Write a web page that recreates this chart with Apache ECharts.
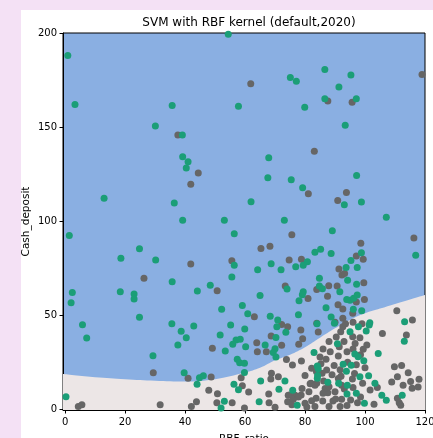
<!DOCTYPE html>
<html>
<head>
<meta charset="utf-8">
<script src="https://cdn.jsdelivr.net/npm/echarts@6/dist/echarts.min.js"></script>
<style>
  html, body { margin: 0; padding: 0; background: #f4e1f5; overflow: hidden; }
  #frame { position: absolute; left: 21px; top: 10px; width: 412px; height: 428px; background: #fff; }
  #chart { width: 412px; height: 428px; }
</style>
</head>
<body>
<div id="frame"><div id="chart"></div></div>
<script>
// decision boundary (RBF_ratio -> Cash_deposit)
const boundaryX = [-0.7, 10, 20, 30, 40, 50, 60, 65, 70, 75, 80, 85, 90, 95, 100, 105, 110, 115, 120];
const boundaryY = [18.7, 17, 16, 15.2, 14.8, 16, 19.5, 22, 26, 29, 33, 38, 43, 47.5, 51, 53.5, 56, 58.3, 60.7];

const xTicks = [0, 20, 40, 60, 80, 100, 120];
const yTicks = [0, 50, 100, 150, 200];

// class 1 (green)
const greenPts = [
  [54.4,199.3],[0.9,188],[3.3,162],[35.7,161.4],[57.8,161],[30.1,150.6],[39.1,145.8],[39.2,134.2],[41,131.5],[40.4,128.3],
  [13,112.2],[36.4,109.6],[62,110.3],[39.2,100.5],[53.1,100.5],
  [86.6,180.6],[75.1,176.3],[77.1,174.3],[95.3,177.7],[91.3,171.3],[86.6,165],[97.1,165],[79.9,160.5],[93.4,151],[67.9,133.7],
  [67.6,123],[75.4,122],[79.2,117.7],[97.2,124.3],[93.1,108.7],[98.8,110.1],[73.1,100.5],[107.1,102],
  [1.4,92.4],[56.4,93.3],[24.8,85.3],[18.6,80.3],[30.2,79.3],[56.4,76.5],[55.6,70.3],[35.7,67.8],[2.4,62.1],[18.4,62.5],
  [23,61.2],[23,58.6],[2,56.6],[44.1,62.8],[48.4,65.9],[52.2,53.1],[59.1,55.2],[60.9,50.8],[24.8,48.9],[5.8,44.9],[7.2,37.9],
  [35.6,45.5],[38.7,41.4],[40.4,38],[42.9,44.2],[37.6,34.1],[55.2,44.8],[59.9,42.6],[51.7,39.5],[57,36.8],[58.4,37.2],
  [55.9,34.5],[60.2,33.2],[53.4,31],[57.4,26.6],[58.2,24.7],[29.3,28.5],[39.7,19.4],[59.8,19.6],[44.8,16.8],[46.1,17.8],
  [44,13.3],[53.1,4.2],[52,0.7],[56.3,13.3],[57.8,10.3],[0.3,6.7],
  [89.1,94.9],[116.9,81.8],[85.2,85.1],[83.3,83.4],[88.7,82.8],[98.8,83.2],[80.8,78.4],[79.4,76.5],[76.9,75.7],[68.7,77.3],
  [72,74.1],[64.2,74.1],[95.3,79.1],[93.7,75.4],[97.4,75.4],[94.2,68.6],[84.8,69.7],[84.8,65.5],[85.8,64],[91.6,62.5],
  [97.2,66.5],[74,63.9],[79.4,62.5],[79.1,60.9],[78,57.7],[65,60.5],[68.4,49.5],[70.9,47.4],[77.8,50.2],[87,54],[88.7,49],
  [96.1,53.1],[98.9,52.4],[95,58],[93.9,58.4],[96.2,59],[89.8,45.7],[84,45.5],[70.6,43.9],[73.6,40.9],[70.3,38.2],[70,32.2],
  [69.4,30.1],[70.3,27.8],[66.7,34.2],[59.8,24.4],[65.2,15],[73.3,15],[71.3,10.6],[64.7,4],[75.9,10.1],[77.4,2.1],[83,30.1],
  [84.1,23],[90.8,34.8],[95,41.2],[97.8,43.9],[101.4,44.8],[100.4,41.6],[96.6,29.4],[97.7,27.9],[99.6,25.8],[92.7,23.9],
  [93.8,20.2],[84.1,16.5],[87.6,14.3],[91.2,13.8],[94.1,12.7],[98.3,17.3],[101.2,17.8],[97.1,8.5],[94,8.1],[99.8,3.2],
  [103.3,13.8],[105.6,7.4],[104.4,29.6],[113.2,46.5],[113.1,36.1],[112.4,7.4],[107.1,4.8],[97.4,60.7],[101.6,46],[84.4,21.5],
  [84.2,18],[95.4,23.4]
];

// class 0 (grey)
const greyPts = [
  [61.9,173],[37.6,145.8],[44.4,125.6],[41.9,119.6],[119,178],[87.6,163.9],[95.7,163.2],[83.1,137.2],[81.1,114.5],[93.8,115.2],
  [90.9,111],[41.9,77.2],[55.6,78.9],[26.3,69.7],[50.7,63],[49.1,32.4],[29.4,19.4],[41,16.5],[48.7,17.2],[58.7,16.8],
  [47.9,10.1],[50.8,8.3],[50.6,3.5],[55.7,3.5],[59.8,0.7],[59.1,12.5],[61.2,9.2],[4.4,1.4],[5.6,2.4],[31.7,2.4],[42.1,1.4],
  [43.8,4],[75.6,92.8],[116.3,91],[65.3,85.5],[68.3,86.7],[98.6,88.3],[97.1,81.4],[99.4,79.7],[74.7,79.3],[78.8,79.7],
  [91.3,74.5],[92.3,71.3],[87.9,65.6],[83.9,63.7],[90.7,65.5],[99.6,67.3],[73.4,65.5],[81,58.9],[63.1,49.2],[92.6,53.3],
  [95.9,51],[97.1,57],[99.8,58.4],[92.6,48.4],[72.2,45.1],[74.2,43.9],[78.6,42.1],[68.7,38.9],[79.2,37.5],[77.9,34.5],
  [72.2,34],[63.9,35.4],[64.1,30.6],[67.1,30.6],[73.8,26.4],[75.8,23.5],[78.8,25.6],[68.8,19.1],[68.6,16.1],[71.1,17.3],
  [67.9,8.1],[68,3.5],[70,1],[75,7.6],[76.7,7.4],[78.7,7.6],[74.2,4],[80,3.2],[82.2,21.8],[85,27.8],[87,26.6],[85.3,24.2],
  [88.4,30.6],[91.4,33.2],[91.1,28.3],[90.4,38.4],[91.9,41.2],[92.6,43.9],[95.9,38.6],[96.7,35],[98.3,38],[100.6,34.2],
  [99.4,31.9],[97.1,23.7],[94.2,25],[91.7,21],[89.7,23.2],[87.2,20.9],[85.7,19.1],[89,18.4],[83.8,20],[83.9,13.8],[90,9.3],
  [95.8,16.1],[99.2,13.8],[93.1,10.8],[92.2,5.3],[95.2,4.9],[91.7,1.4],[85.9,4.4],[83.7,5.8],[83.3,1.4],[89.3,4.4],[87.6,8.8],
  [81.3,9.3],[82,13.8],[103,2.7],[104.1,11.5],[101.7,10.2],[105.8,40.3],[110.6,52.4],[115.8,47.4],[113.8,39.5],[109.8,22.6],
  [112.2,23.2],[110.8,17.3],[114.4,19.4],[115.2,14.7],[118,15.9],[108.9,14.5],[115.7,11.2],[111.4,3.5],[110.8,5.8],[93.2,72.2],
  [96,46.2],[84.4,41.1],[80,18],[81.7,13.6],[74.4,7.4],[76.1,5.3],[75.6,2.4],[80.6,1.2],[77.8,6.5],[83.3,12.7],[86.7,11],
  [91.1,16.3],[92.2,12.7],[117.7,11.8],[112.7,12.7],[111.9,2.1],[83.9,45.7],[90,46.2],
  [86,32],[88,36],[93,36],[94,30.5],[96,32],[98.5,29],[100,22],[96.5,19],[92,17.5],[88,12],[86.2,15],[90.2,5.5],
  [94,2],[97.5,3.5],[98.5,6.5],[96,11.5],[88,1.5],[86,8.5],[82.2,4.5],[79,11],[93.5,45.5],[99,45.5],[91,55.5],[87.5,60]
];

const FONT = 'DejaVu Sans';
const chart = echarts.init(document.getElementById('chart'), null, { renderer: 'canvas' });

const axisCommon = {
  axisLine: { show: true, onZero: false, lineStyle: { color: '#000', width: 1 } },
  axisTick: { show: true, length: 3.5, lineStyle: { color: '#000' } },
  splitLine: { show: false },
  nameMoveOverlap: false,
  nameTextStyle: { fontFamily: FONT, fontSize: 10.5, color: '#000' },
};

chart.setOption({
  animation: false,
  title: {
    text: 'SVM with RBF kernel (default,2020)',
    left: 223, top: 2, textAlign: 'center',
    textStyle: { fontFamily: FONT, fontSize: 12, fontWeight: 'normal', color: '#000' },
  },
  grid: {
    left: 42, top: 23, width: 362, height: 377,
    outerBoundsMode: 'none', containLabel: false,
    show: true, backgroundColor: '#8aafe2', borderColor: '#000', borderWidth: 1,
  },
  xAxis: {
    ...axisCommon,
    type: 'value', min: -0.7, max: 120,
    name: 'RBF_ratio', nameLocation: 'middle', nameGap: 24,
    axisTick: { ...axisCommon.axisTick, customValues: xTicks },
    axisLabel: { customValues: xTicks, margin: 7, fontFamily: FONT, fontSize: 10, color: '#000' },
  },
  yAxis: {
    ...axisCommon,
    type: 'value', min: -0.4, max: 200,
    name: 'Cash_deposit', nameLocation: 'middle', nameGap: 31,
    axisTick: { ...axisCommon.axisTick, customValues: yTicks },
    axisLabel: { customValues: yTicks, margin: 6, fontFamily: FONT, fontSize: 10, color: '#000' },
  },
  series: [
    {
      type: 'line',
      data: boundaryX.map((x, i) => [x, boundaryY[i]]),
      smooth: 0.4,
      symbol: 'none',
      lineStyle: { width: 0 },
      areaStyle: { color: '#ece6e6', opacity: 1, origin: 'start' },
      z: 1,
      silent: true,
    },
    {
      type: 'scatter',
      data: greyPts,
      symbolSize: 7,
      itemStyle: { color: '#666666', opacity: 1 },
      z: 3,
    },
    {
      type: 'scatter',
      data: greenPts,
      symbolSize: 7,
      itemStyle: { color: '#1b9e77', opacity: 1 },
      z: 4,
    },
  ],
});
</script>
</body>
</html>
